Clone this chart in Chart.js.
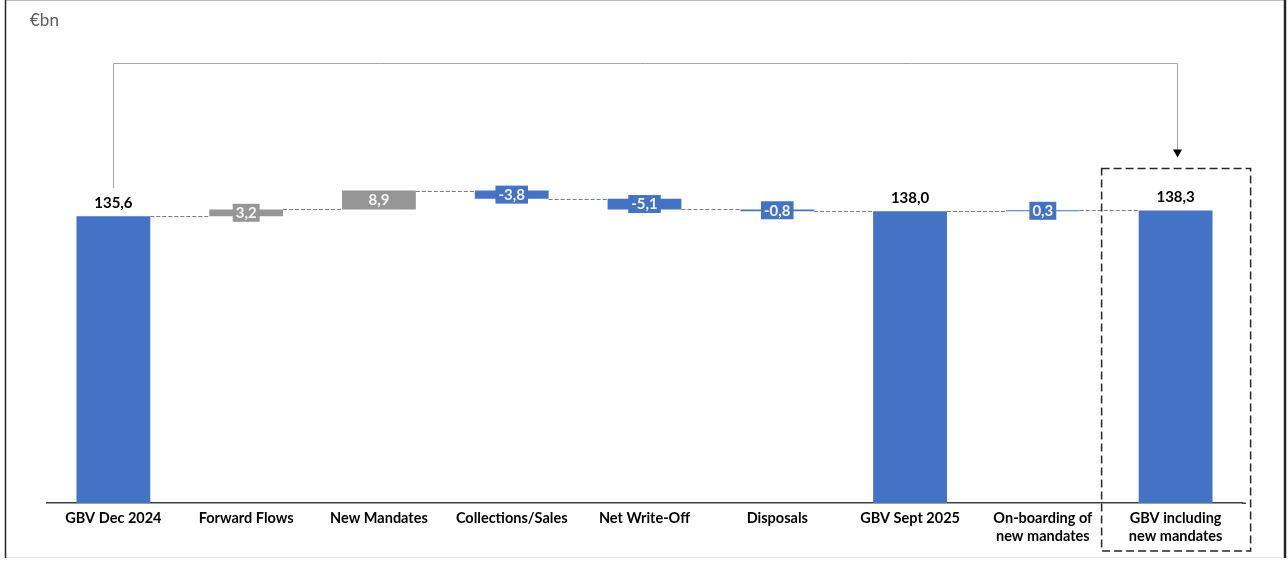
<!DOCTYPE html>
<html>
<head>
<meta charset="utf-8">
<script src="https://cdn.jsdelivr.net/npm/chart.js@4/dist/chart.umd.min.js"></script>
<style>
    html, body { margin: 0; padding: 0; background: #fff; }
    #wrap { position: relative; width: 1288px; height: 562px; }
</style>
</head>
<body>
<div id="wrap"><canvas id="gbvChart" width="1288" height="562"></canvas></div>
<script>
// --- data ---
const categories = [
    "GBV Dec 2024", "Forward Flows", "New Mandates", "Collections/Sales",
    "Net Write-Off", "Disposals", "GBV Sept 2025",
    ["On-boarding of", "new mandates"], ["GBV including", "new mandates"]
];
const values = [135.6, 3.2, 8.9, -3.8, -5.1, -0.8, 138.0, 0.3, 138.3];
const isTotal = [true, false, false, false, false, false, true, false, true];
const unitLabel = "€bn";

const BLUE = "#4472C4";
const GREY = "#969696";
const barColors = [BLUE, GREY, GREY, BLUE, BLUE, BLUE, BLUE, BLUE, BLUE];

// floating ranges for waterfall
let running = 0;
const ranges = [];
const levels = [];
values.forEach((v, i) => {
    if (isTotal[i]) {
        ranges.push([0, v]);
        running = v;
    } else {
        ranges.push([running, running + v]);
        running = running + v;
    }
    levels.push(running);
});

function fmt(v) {
    return v.toFixed(1).replace(".", ",");
}

// -----------------------------
// extra drawing: connectors, labels, arrow, frame
// -----------------------------
const waterfallExtras = {
    id: "waterfallExtras",
    afterDatasetsDraw(chart) {
        const ctx = chart.ctx;
        const meta = chart.getDatasetMeta(0);
        const y = chart.scales.y;
        const area = chart.chartArea;
        const bars = meta.data;

        ctx.save();

        // axis line runs a little past the last category
        ctx.strokeStyle = "#404040";
        ctx.lineWidth = 1.5;
        ctx.beginPath();
        ctx.moveTo(area.right, area.bottom + 0.25);
        ctx.lineTo(area.right + 4, area.bottom + 0.25);
        ctx.stroke();

        // dashed connectors
        ctx.strokeStyle = "#7f7f7f";
        ctx.lineWidth = 1;
        ctx.setLineDash([4, 2]);
        for (let i = 0; i < bars.length - 1; i++) {
            const yy = Math.round(y.getPixelForValue(levels[i])) + 0.5;
            ctx.beginPath();
            ctx.moveTo(bars[i].x + bars[i].width / 2, yy);
            ctx.lineTo(bars[i + 1].x - bars[i + 1].width / 2, yy);
            ctx.stroke();
        }
        ctx.setLineDash([]);

        // value labels
        ctx.font = "bold 15px Lato";
        ctx.textAlign = "center";
        ctx.textBaseline = "middle";
        bars.forEach((b, i) => {
            const r = ranges[i];
            if (isTotal[i]) {
                ctx.fillStyle = "#000";
                ctx.fillText(fmt(values[i]), b.x, y.getPixelForValue(r[1]) - 13);
            } else {
                const mid = (y.getPixelForValue(r[0]) + y.getPixelForValue(r[1])) / 2;
                const txt = fmt(values[i]);
                const w = ctx.measureText(txt).width + 6;
                ctx.fillStyle = barColors[i];
                ctx.fillRect(b.x - w / 2, mid - 9, w, 18);
                ctx.fillStyle = "#f4f4f4";
                ctx.fillText(txt, b.x, mid + 0.5);
            }
        });

        // bracket arrow from first to last total
        const first = bars[0];
        const last = bars[bars.length - 1];
        const topY = Math.round(y.getPixelForValue(208)) + 0.5;
        const startY = y.getPixelForValue(ranges[0][1]) - 28;
        const tipY = y.getPixelForValue(ranges[bars.length - 1][1]) - 53;
        const fx = Math.round(first.x) + 0.5;
        const lx = Math.round(last.x) + 1.5;
        ctx.strokeStyle = "#a6a6a6";
        ctx.lineWidth = 1;
        ctx.beginPath();
        ctx.moveTo(fx, startY);
        ctx.lineTo(fx, topY);
        ctx.lineTo(lx, topY);
        ctx.lineTo(lx, tipY - 7);
        ctx.stroke();
        ctx.fillStyle = "#000";
        ctx.beginPath();
        ctx.moveTo(lx - 4.5, tipY - 8);
        ctx.lineTo(lx + 4.5, tipY - 8);
        ctx.lineTo(lx, tipY);
        ctx.closePath();
        ctx.fill();

        // dashed highlight box around last category
        const boxTop = y.getPixelForValue(ranges[bars.length - 1][1]) - 42;
        ctx.strokeStyle = "#262626";
        ctx.lineWidth = 1.5;
        ctx.setLineDash([8, 4]);
        ctx.strokeRect(last.x - 74, boxTop, 149, 551 - boxTop);
        ctx.setLineDash([]);

        // unit label
        ctx.fillStyle = "#595959";
        ctx.font = "17px Lato";
        ctx.textAlign = "left";
        ctx.fillText(unitLabel, 30, 21);

        // frame
        ctx.lineWidth = 1;
        ctx.strokeStyle = "#bfbfbf";
        ctx.beginPath();
        ctx.moveTo(5, 0.5); ctx.lineTo(1286, 0.5);
        ctx.stroke();
        ctx.strokeStyle = "#e6e6e6";
        ctx.beginPath();
        ctx.moveTo(5, 557.5); ctx.lineTo(1286, 557.5);
        ctx.stroke();
        ctx.strokeStyle = "#262626";
        ctx.lineWidth = 1.5;
        ctx.beginPath();
        ctx.moveTo(5.5, 0); ctx.lineTo(5.5, 558);
        ctx.stroke();
        ctx.lineWidth = 2.5;
        ctx.beginPath();
        ctx.moveTo(1285, 0); ctx.lineTo(1285, 558);
        ctx.stroke();

        ctx.restore();
    }
};

new Chart(document.getElementById("gbvChart"), {
    type: "bar",
    data: {
        labels: categories,
        datasets: [{
            data: ranges,
            backgroundColor: barColors,
            borderWidth: 0,
            minBarLength: 1,
            categoryPercentage: 1,
            barPercentage: 0.556
        }]
    },
    options: {
        responsive: false,
        animation: false,
        layout: { padding: { left: 47, right: 46, top: 80, bottom: 0 } },
        plugins: {
            legend: { display: false },
            tooltip: { enabled: false }
        },
        scales: {
            x: {
                grid: { display: false, drawTicks: false },
                border: { display: true, color: "#404040", width: 1.5 },
                ticks: {
                    color: "#000",
                    font: { family: "Lato", size: 14.5, weight: "bold", lineHeight: 1.25 },
                    padding: 6,
                    maxRotation: 0,
                    autoSkip: false
                },
                afterFit(scale) { scale.height = 59; }
            },
            y: {
                display: false,
                min: 0,
                max: 200
            }
        }
    },
    plugins: [waterfallExtras]
});
</script>
</body>
</html>
